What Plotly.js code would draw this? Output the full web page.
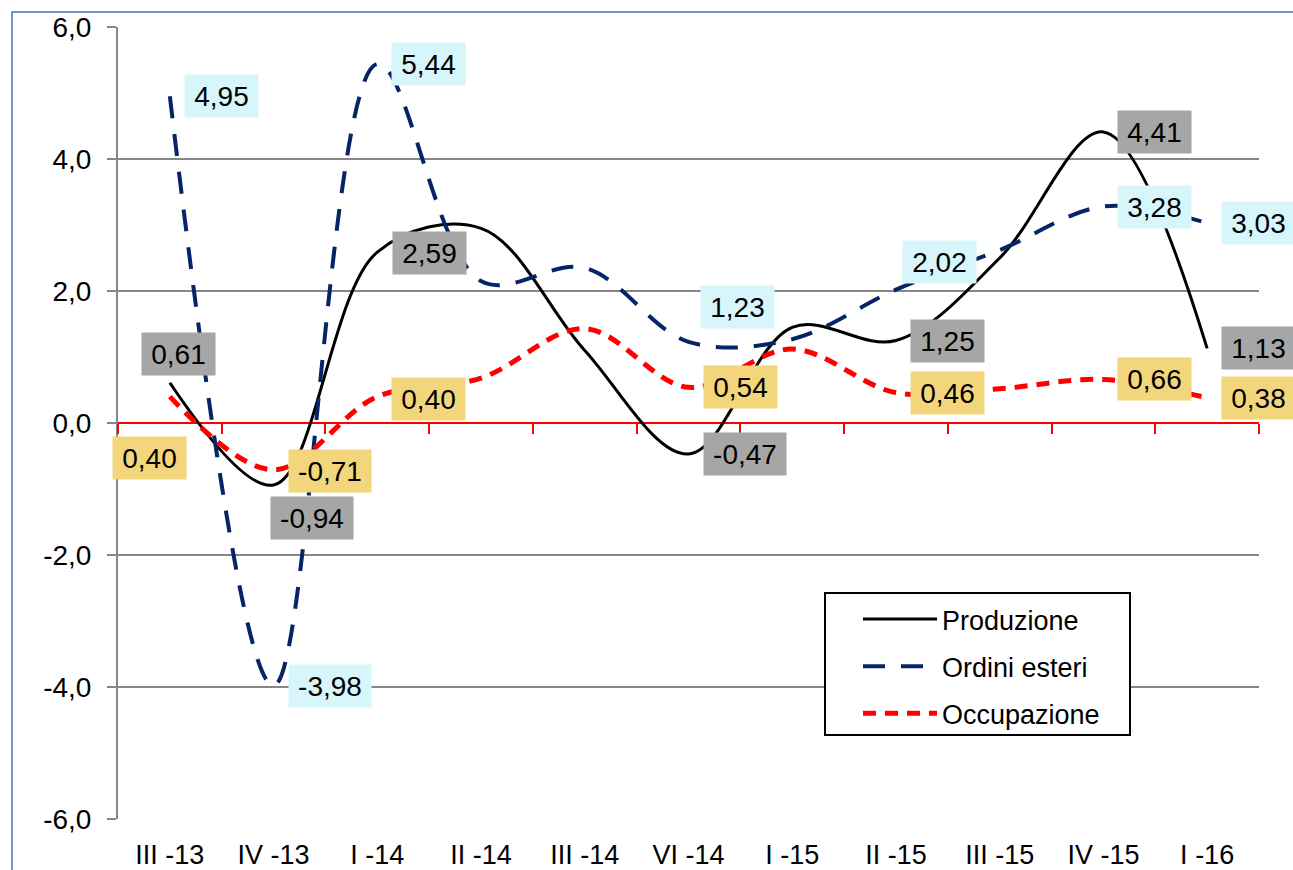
<!DOCTYPE html>
<html><head><meta charset="utf-8">
<script src="https://cdn.plot.ly/plotly-3.0.1.min.js"></script>
<style>
html,body{margin:0;padding:0;background:#fff;}
#wrap{position:relative;width:1293px;height:870px;overflow:hidden;}
#frame{position:absolute;left:11px;top:11px;width:1400px;height:1000px;border:2px solid #6b96d2;box-sizing:border-box;}
#chart{position:absolute;left:0;top:0;width:1293px;height:870px;}
</style></head><body>
<div id="wrap"><div id="frame"></div><div id="chart"></div></div>
<script>
const categories = ['III -13','IV -13','I -14','II -14','III -14','VI -14','I -15','II -15','III -15','IV -15','I -16'];
const produzione   = [0.61, -0.94, 2.59, 2.95, 1.10, -0.47, 1.45, 1.25, 2.50, 4.41, 1.13];
const ordiniEsteri = [4.95, -3.98, 5.44, 2.15, 2.35, 1.23, 1.27, 2.02, 2.62, 3.28, 3.03];
const occupazione  = [0.40, -0.71, 0.40, 0.68, 1.43, 0.54, 1.12, 0.46, 0.52, 0.66, 0.38];
const labelledIdx  = [0, 1, 2, 5, 7, 9, 10];
const seriesNames  = ['Produzione', 'Ordini esteri', 'Occupazione'];
const yTickVals    = [-6, -4, -2, 0, 2, 4, 6];

const FONT = 'Arial, "Liberation Sans", sans-serif';

const series = [
  {name: seriesNames[0], y: produzione,   color: '#000000', width: 3,   dash: 'solid',      bg: '#a6a6a6',
   offsets: {0: [-29, 29], 1: [-4, -32.5], 2: [15, -1]}},
  {name: seriesNames[1], y: ordiniEsteri, color: '#062466', width: 4,   dash: '22px,16px',  bg: '#d7f6fb',
   offsets: {5: [11, 34.5], 7: [6, 28]}},
  {name: seriesNames[2], y: occupazione,  color: '#ff0000', width: 5,   dash: '13px,9px',   bg: '#f3d67b',
   offsets: {0: [-58, -61.5], 1: [14, -1.5], 2: [14, -2]}}
];

const traces = series.map((s, k) => ({
  type: 'scatter', mode: 'lines', name: s.name, x: categories, y: s.y,
  legendgroup: 'g' + k,
  line: {color: s.color, width: s.width, dash: s.dash, shape: 'spline', smoothing: 1},
  hoverinfo: 'skip'
}));
// helper trace carrying the zero-line axis (draws nothing)
traces.push({type: 'scatter', mode: 'none', x: categories, y: produzione, xaxis: 'x2',
  showlegend: false, hoverinfo: 'skip'});

const fmt = (v, d) => v.toFixed(d).replace('.', ',');

const annotations = [];
series.forEach(s => {
  labelledIdx.forEach(i => {
    const v = s.y[i];
    const off = s.offsets[i] || [14, 0];
    annotations.push({
      x: categories[i], y: v, xref: 'x', yref: 'y',
      text: fmt(v, 2), showarrow: false,
      xanchor: 'left', yanchor: 'middle',
      xshift: off[0], yshift: off[1],
      width: v < 0 ? 82 : 73, height: 42,
      align: 'center', valign: 'middle',
      bgcolor: s.bg, borderpad: 0,
      font: {family: FONT, size: 28, color: '#000'}
    });
  });
});

// legend frame (pixel box converted to paper fractions of the plot area)
const PL = 118, PW = 1141, PT = 27, PH = 792;
const px2x = p => (p - PL) / PW;
const py2y = p => (PT + PH - p) / PH;

const layout = {
  width: 1293, height: 870,
  margin: {l: PL, r: 1293 - PL - PW, t: PT, b: 870 - PT - PH},
  paper_bgcolor: 'rgba(0,0,0,0)', plot_bgcolor: 'rgba(0,0,0,0)',
  separators: ',.',
  font: {family: FONT, size: 27, color: '#000'},
  showlegend: true,
  legend: {
    x: px2x(858), y: py2y(595), xanchor: 'left', yanchor: 'top',
    bgcolor: 'rgba(0,0,0,0)', borderwidth: 0,
    font: {family: FONT, size: 27, color: '#000'},
    traceorder: 'grouped', tracegroupgap: 9, itemwidth: 74
  },
  shapes: [{
    type: 'rect', xref: 'paper', yref: 'paper', layer: 'above',
    x0: px2x(825), x1: px2x(1130), y0: py2y(735), y1: py2y(593),
    line: {color: '#000', width: 2}, fillcolor: '#ffffff'
  }],
  xaxis: {
    type: 'category', range: [-0.5, 10.5], categoryarray: categories, categoryorder: 'array',
    showgrid: false, zeroline: false, showline: false, ticks: '',
    tickfont: {family: FONT, size: 27, color: '#000'}, ticklabelstandoff: 17, fixedrange: true
  },
  xaxis2: {
    overlaying: 'x', anchor: 'free', position: 0.5, type: 'category',
    range: [-0.5, 10.5], categoryarray: categories, categoryorder: 'array',
    showline: true, linecolor: '#ff0000', linewidth: 2,
    ticks: 'outside', tickson: 'boundaries', ticklen: 10, tickwidth: 2, tickcolor: '#ff0000',
    showticklabels: false, showgrid: false, zeroline: false, layer: 'below traces'
  },
  yaxis: {
    range: [-6, 6], tickvals: yTickVals, ticktext: yTickVals.map(v => fmt(v, 1)),
    showgrid: true, gridcolor: '#878787', gridwidth: 2,
    zeroline: false, showline: true, linecolor: '#878787', linewidth: 2,
    ticks: 'outside', ticklen: 9, tickwidth: 2, tickcolor: '#878787',
    tickfont: {family: FONT, size: 28, color: '#000'}, ticklabelstandoff: 10,
    layer: 'below traces', fixedrange: true
  },
  annotations: annotations
};

Plotly.newPlot('chart', traces, layout, {displayModeBar: false, staticPlot: true});
</script>
</body></html>
